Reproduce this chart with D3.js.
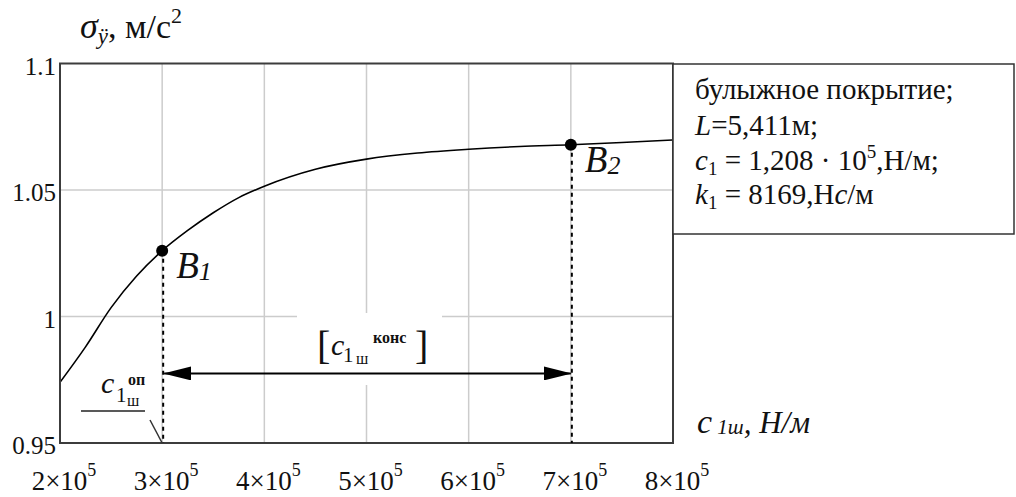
<!DOCTYPE html>
<html lang="ru">
<head>
    <meta charset="UTF-8">
    <script src="https://d3js.org/d3.v7.min.js"></script>
    <style>
        body { margin: 0; padding: 0; background: #fff; }
        svg { display: block; }
        svg text { font-family: "Liberation Serif", "Times New Roman", serif; fill: #111; }
        .it { font-style: italic; }
    </style>
</head>
<body>
    <div id="chart"></div>
    <script>
        // Data (c1ш in units of 1e5 N/m, sigma in m/s^2)
        const cValues = [2, 2.25, 2.5, 2.75, 3, 3.25, 3.5, 3.75, 4, 4.5, 5, 5.5, 6, 6.5, 7, 7.5, 8];
        const sigmaValues = [0.974, 0.988, 1.0035, 1.016, 1.026, 1.034, 1.041, 1.047, 1.0515, 1.0582, 1.0622, 1.0646, 1.0661, 1.0672, 1.0679, 1.0688, 1.0698];
        const xTicks = [2, 3, 4, 5, 6, 7, 8];
        const yTicks = [0.95, 1, 1.05, 1.1];
        const yTickLabels = ["0.95", "1", "1.05", "1.1"];
        const markC = [3, 7];
        const markNames = ["1", "2"];
        const arrowLevel = 0.9775;
        const legendLines = ["булыжное покрытие;", "L=5,411м;", "c1 = 1,208·10^5,Н/м;", "k1 = 8169,Нc/м"];

        const width = 1016, height = 497;
        const svg = d3.select("#chart").append("svg")
            .attr("width", width)
            .attr("height", height);

        const x = d3.scaleLinear().domain([2, 8]).range([60, 673]);
        const y = d3.scaleLinear().domain([0.95, 1.1]).range([443, 63.5]);

        const data = cValues.map((c, i) => ({c: c, s: sigmaValues[i]}));

        // grid
        const grid = svg.append("g").attr("stroke", "#cccccc").attr("stroke-width", 1.5);
        grid.selectAll(".vg").data(xTicks.slice(1, -1)).enter().append("line")
            .attr("x1", d => x(d)).attr("x2", d => x(d))
            .attr("y1", y(1.1)).attr("y2", y(0.95));
        grid.selectAll(".hg").data(yTicks.slice(1, -1)).enter().append("line")
            .attr("x1", x(2)).attr("x2", x(8))
            .attr("y1", d => y(d)).attr("y2", d => y(d));

        // white box behind the range label
        svg.append("rect")
            .attr("x", 297).attr("y", 313).attr("width", 145).attr("height", 72)
            .attr("fill", "#fff");

        // curve
        svg.append("clipPath").attr("id", "clip").append("rect")
            .attr("x", x(2)).attr("y", y(1.1)).attr("width", x(8) - x(2)).attr("height", y(0.95) - y(1.1));
        const line = d3.line().x(d => x(d.c)).y(d => y(d.s)).curve(d3.curveMonotoneX);
        svg.append("path")
            .datum(data)
            .attr("clip-path", "url(#clip)")
            .attr("fill", "none")
            .attr("stroke", "#000")
            .attr("stroke-width", 1.6)
            .attr("d", line);

        // frame
        svg.append("rect")
            .attr("x", x(2)).attr("y", y(1.1))
            .attr("width", x(8) - x(2)).attr("height", y(0.95) - y(1.1))
            .attr("fill", "none").attr("stroke", "#3c3c3c").attr("stroke-width", 2);

        // y tick labels
        svg.selectAll(".yt").data(yTicks).enter().append("text")
            .attr("x", 56).attr("y", d => y(d) + 11)
            .attr("text-anchor", "end")
            .style("font-size", "25px")
            .text((d, i) => yTickLabels[i]);

        // x tick labels
        const xt = svg.selectAll(".xt").data(xTicks).enter().append("text")
            .attr("x", d => x(d) + 4).attr("y", 490)
            .attr("text-anchor", "middle");
        xt.append("tspan").style("font-size", "27px").text(d => d + "×10");
        xt.append("tspan").style("font-size", "18px").attr("dy", -14).text("5");

        // marked points with dashed drops
        const marks = markC.map((c, i) => ({c: c, s: sigmaValues[cValues.indexOf(c)], n: markNames[i]}));
        svg.selectAll(".drop").data(marks).enter().append("line")
            .attr("x1", d => x(d.c) + 1).attr("x2", d => x(d.c) + 1)
            .attr("y1", d => y(d.s)).attr("y2", y(0.95))
            .attr("stroke", "#000").attr("stroke-width", 2)
            .attr("stroke-dasharray", "4,4");
        svg.selectAll(".pt").data(marks).enter().append("circle")
            .attr("cx", d => x(d.c)).attr("cy", d => y(d.s)).attr("r", 6)
            .attr("fill", "#000");
        const bl = svg.selectAll(".bl").data(marks).enter().append("text")
            .attr("x", d => x(d.c) + 14).attr("y", d => y(d.s) + 27)
            .attr("class", "it");
        bl.append("tspan").style("font-size", "37px").text("B");
        bl.append("tspan").style("font-size", "26px").attr("dy", 2).text(d => d.n);

        // range arrow
        const defs = svg.append("defs");
        defs.append("marker").attr("id", "ah")
            .attr("viewBox", "0 0 28 14").attr("refX", 27).attr("refY", 7)
            .attr("markerWidth", 28).attr("markerHeight", 14)
            .attr("markerUnits", "userSpaceOnUse")
            .attr("orient", "auto-start-reverse")
            .append("path").attr("d", "M0,0 L28,7 L0,14 Z").attr("fill", "#000");
        svg.append("line")
            .attr("x1", x(markC[0]) + 2).attr("x2", x(markC[1]))
            .attr("y1", y(arrowLevel)).attr("y2", y(arrowLevel))
            .attr("stroke", "#000").attr("stroke-width", 2)
            .attr("marker-start", "url(#ah)").attr("marker-end", "url(#ah)");

        // [c1ш конс] label
        const rl = svg.append("g");
        rl.append("text").attr("x", 317).attr("y", 359).style("font-size", "40px").text("[");
        rl.append("text").attr("x", 331).attr("y", 355).attr("class", "it").style("font-size", "30px").text("c");
        rl.append("text").attr("x", 343).attr("y", 362).style("font-size", "21px").text("1");
        rl.append("text").attr("x", 356).attr("y", 364).style("font-size", "16px").text("ш");
        rl.append("text").attr("x", 373).attr("y", 343).style("font-size", "16px").style("font-weight", "bold").text("конс");
        rl.append("text").attr("x", 415).attr("y", 359).style("font-size", "40px").text("]");

        // c1ш оп label with leader
        const ol = svg.append("g");
        ol.append("text").attr("x", 101).attr("y", 393).attr("class", "it").style("font-size", "30px").text("c");
        ol.append("text").attr("x", 116).attr("y", 402).style("font-size", "21px").text("1");
        ol.append("text").attr("x", 127).attr("y", 406).style("font-size", "16px").text("ш");
        ol.append("text").attr("x", 128).attr("y", 385).style("font-size", "16px").style("font-weight", "bold").text("оп");
        ol.append("line").attr("x1", 81).attr("x2", 145).attr("y1", 411).attr("y2", 411)
            .attr("stroke", "#222").attr("stroke-width", 1.5);
        ol.append("line").attr("x1", 150).attr("y1", 420).attr("x2", x(markC[0])).attr("y2", y(0.95))
            .attr("stroke", "#333").attr("stroke-width", 1.5);

        // axis titles
        const yt = svg.append("text").attr("x", 80).attr("y", 38);
        yt.append("tspan").attr("class", "it").style("font-size", "36px").text("σ");
        yt.append("tspan").attr("class", "it").style("font-size", "23px").attr("dy", 6).text("ÿ");
        yt.append("tspan").style("font-size", "34px").attr("dy", -6).text(", м/с");
        yt.append("tspan").style("font-size", "22px").attr("dy", -15).text("2");

        const xtl = svg.append("text").attr("x", 697).attr("y", 433).attr("class", "it");
        xtl.append("tspan").style("font-size", "34px").text("c");
        xtl.append("tspan").style("font-size", "21px").attr("dy", 1).text(" 1ш");
        xtl.append("tspan").style("font-size", "31px").attr("dy", -1).text(", Н/м");

        // parameter box
        svg.append("rect")
            .attr("x", x(8)).attr("y", 64).attr("width", 341).attr("height", 170)
            .attr("fill", "#fff").attr("stroke", "#333").attr("stroke-width", 1.5);
        const lx = 695, lb = [99, 135, 170, 204], fs = "29px";
        svg.append("text").attr("x", lx).attr("y", lb[0]).style("font-size", fs).text(legendLines[0]);
        const l2 = svg.append("text").attr("x", lx).attr("y", lb[1]).style("font-size", fs);
        l2.append("tspan").attr("class", "it").text("L");
        l2.append("tspan").text("=5,411м;");
        const l3 = svg.append("text").attr("x", lx).attr("y", lb[2]).style("font-size", fs);
        l3.append("tspan").attr("class", "it").text("c");
        l3.append("tspan").style("font-size", "19px").attr("dy", 5).text("1");
        l3.append("tspan").attr("dy", -5).text(" = 1,208 · 10");
        l3.append("tspan").style("font-size", "19px").attr("dy", -12).text("5");
        l3.append("tspan").attr("dy", 12).text(",Н/м;");
        const l4 = svg.append("text").attr("x", lx).attr("y", lb[3]).style("font-size", fs);
        l4.append("tspan").attr("class", "it").text("k");
        l4.append("tspan").style("font-size", "19px").attr("dy", 5).text("1");
        l4.append("tspan").attr("dy", -5).text(" = 8169,Н");
        l4.append("tspan").attr("class", "it").text("c");
        l4.append("tspan").text("/м");
    </script>
</body>
</html>
